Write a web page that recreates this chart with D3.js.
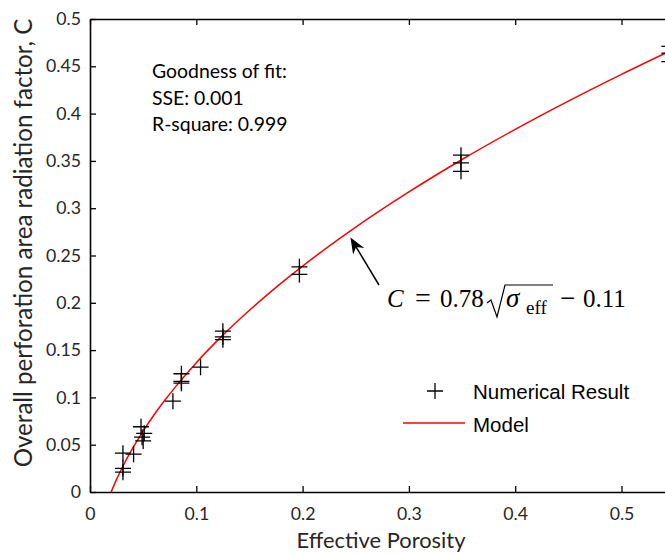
<!DOCTYPE html>
<html>
<head>
<meta charset="utf-8">
<script src="https://cdn.jsdelivr.net/npm/d3@7"></script>
<style>
  body { margin: 0; background: #fff; }
  svg { display: block; }
</style>
</head>
<body>
<div id="chart"></div>
<script>
// Numerical results (effective porosity vs radiation factor C)
var porosity = [0.031, 0.041, 0.031, 0.031,
  0.048, 0.051, 0.049, 0.050,
  0.078, 0.086, 0.086, 0.086, 0.104,
  0.125, 0.125, 0.125,
  0.197, 0.197,
  0.349, 0.349, 0.349,
  0.545, 0.545, 0.545];
var radiation = [0.041, 0.040, 0.025, 0.021,
  0.069, 0.062, 0.058, 0.054,
  0.096, 0.125, 0.117, 0.115, 0.132,
  0.170, 0.164, 0.161,
  0.238, 0.230,
  0.356, 0.348, 0.339,
  0.471, 0.464, 0.455];

// Model curve C = 0.78*sqrt(sigma_eff) - 0.11, sampled
var modelX = [0.0199, 0.025, 0.03, 0.04, 0.05, 0.06, 0.07, 0.08, 0.1, 0.125, 0.15,
  0.175, 0.2, 0.25, 0.3, 0.35, 0.4, 0.45, 0.5, 0.55];
var modelC = [0.0000, 0.0133, 0.0251, 0.0460, 0.0644, 0.0811, 0.0964, 0.1106, 0.1367,
  0.1658, 0.1921, 0.2163, 0.2388, 0.2800, 0.3172, 0.3515, 0.3833, 0.4132, 0.4415, 0.4685];

var xTicks = [0, 0.1, 0.2, 0.3, 0.4, 0.5];
var yTicks = [0, 0.05, 0.1, 0.15, 0.2, 0.25, 0.3, 0.35, 0.4, 0.45, 0.5];
var fitText = ['Goodness of fit:', 'SSE: 0.001', 'R-square: 0.999'];

var chart_width = 665;
var chart_height = 554;
var plotLeft = 90, plotTop = 19, plotBottom = 492;

var svg = d3.select('#chart')
  .append('svg')
  .attr('width', chart_width)
  .attr('height', chart_height);

var calFont = 'Lato, "Open Sans", sans-serif';
var legFont = '"Liberation Sans", Arial, sans-serif';
var serifFont = '"Liberation Serif", "Times New Roman", serif';

// font size that makes a string a given width
function fitFont(str, family, target) {
  var t = svg.append('text').attr('font-family', family).attr('font-size', 100).text(str);
  var w = t.node().getComputedTextLength();
  t.remove();
  return 100 * target / w;
}
var tickSize = fitFont('0.45', calFont, 35);
var fitSize = fitFont('Goodness of fit:', calFont, 135);
var xLabSize = fitFont('Effective Porosity', calFont, 169);
var yLabSize = fitFont('Overall perforation area radiation factor, C', calFont, 449);

// Scales
var xScale = d3.scaleLinear()
  .domain([0, 0.55])
  .range([plotLeft, plotLeft + 0.55 * 1063]);
var yScale = d3.scaleLinear()
  .domain([0, 0.5])
  .range([plotBottom, plotTop]);

// Axes
var xAxis = svg.append('g')
  .attr('transform', 'translate(0,' + plotBottom + ')')
  .call(d3.axisBottom(xScale).tickValues(xTicks).tickSizeInner(-6).tickSizeOuter(0)
    .tickPadding(17).tickFormat(d3.format('~g')));
var xTop = svg.append('g')
  .attr('transform', 'translate(0,' + plotTop + ')')
  .call(d3.axisTop(xScale).tickValues(xTicks).tickSizeInner(-6).tickSizeOuter(0)
    .tickFormat(''));
var yAxis = svg.append('g')
  .attr('transform', 'translate(' + plotLeft + ',0)')
  .call(d3.axisLeft(yScale).tickValues(yTicks).tickSizeInner(-6).tickSizeOuter(0)
    .tickPadding(9).tickFormat(d3.format('~g')));

[xAxis, xTop, yAxis].forEach(function (g) {
  g.select('.domain').attr('stroke', '#000').attr('stroke-width', 1.6);
  g.selectAll('.tick line').attr('stroke', '#000').attr('stroke-width', 1.3);
  g.selectAll('.tick text')
    .attr('font-family', calFont)
    .attr('font-size', tickSize)
    .attr('fill', '#262626');
});
xAxis.selectAll('.tick text').attr('dy', '0.6em');

// Axis labels
svg.append('text')
  .text('Effective Porosity')
  .attr('x', 381)
  .attr('y', 548)
  .attr('text-anchor', 'middle')
  .attr('font-family', calFont)
  .attr('font-size', xLabSize)
  .attr('fill', '#262626');

svg.append('text')
  .text('Overall perforation area radiation factor, C')
  .attr('transform', 'translate(32,243) rotate(-90)')
  .attr('text-anchor', 'middle')
  .attr('font-family', calFont)
  .attr('font-size', yLabSize)
  .attr('fill', '#262626');

// Model line
var line = d3.line()
  .x(function (d, i) { return xScale(modelX[i]); })
  .y(function (d) { return yScale(d); })
  .curve(d3.curveMonotoneX);

svg.append('path')
  .datum(modelC)
  .attr('d', line)
  .attr('fill', 'none')
  .attr('stroke', '#ff0000')
  .attr('stroke-width', 1.5);

// Numerical result markers
var plus = 'M-8,0H8M0,-8V8';
svg.selectAll('path.pt')
  .data(radiation)
  .enter()
  .append('path')
  .attr('class', 'pt')
  .attr('d', plus)
  .attr('transform', function (d, i) {
    return 'translate(' + xScale(porosity[i]) + ',' + yScale(d) + ')';
  })
  .attr('stroke', '#000')
  .attr('stroke-width', 1.3);

// Goodness of fit text
svg.selectAll('text.fit')
  .data(fitText)
  .enter()
  .append('text')
  .attr('class', 'fit')
  .text(function (d) { return d; })
  .attr('x', 152)
  .attr('y', function (d, i) { return 78 + i * 26.5; })
  .attr('font-family', calFont)
  .attr('font-size', fitSize)
  .attr('fill', '#000');

// Legend
svg.append('path')
  .attr('d', plus)
  .attr('transform', 'translate(435,391)')
  .attr('stroke', '#000')
  .attr('stroke-width', 1.3);
svg.append('text')
  .text('Numerical Result')
  .attr('x', 473).attr('y', 399)
  .attr('font-family', legFont).attr('font-size', 20.5).attr('fill', '#000');
svg.append('line')
  .attr('x1', 403).attr('x2', 465).attr('y1', 423).attr('y2', 423)
  .attr('stroke', '#ff0000').attr('stroke-width', 1.5);
svg.append('text')
  .text('Model')
  .attr('x', 473).attr('y', 432)
  .attr('font-family', legFont).attr('font-size', 20.5).attr('fill', '#000');

// Arrow annotation
var tipX = xScale(0.245), tipY = yScale(0.269);
var tailX = 379, tailY = 285;
var ang = Math.atan2(tipY - tailY, tipX - tailX);
svg.append('line')
  .attr('x1', tailX).attr('y1', tailY)
  .attr('x2', tipX - 10 * Math.cos(ang)).attr('y2', tipY - 10 * Math.sin(ang))
  .attr('stroke', '#000').attr('stroke-width', 1.5);
svg.append('path')
  .attr('d', 'M0,0L-16,-6.5L-11,0L-16,6.5Z')
  .attr('transform', 'translate(' + tipX + ',' + tipY + ') rotate(' + (ang * 180 / Math.PI) + ')')
  .attr('fill', '#000');

// Equation: C = 0.78 sqrt(sigma_eff) - 0.11
var eq = svg.append('g');
var ey = 307, fs = 25;
function piece(str, x, opts) {
  return eq.append('text')
    .text(str)
    .attr('x', x)
    .attr('y', opts.y || ey)
    .attr('font-family', serifFont)
    .attr('font-size', opts.size || fs)
    .attr('font-style', opts.italic ? 'italic' : 'normal')
    .attr('fill', '#000');
}
piece('C', 387, { italic: true });
piece('=', 415, { size: 28 });
piece('0.78', 440, {});
piece('σ', 506, { italic: true, size: 27 });
piece('eff', 526, { size: 19, y: ey + 7 });
piece('−', 560, { size: 27 });
piece('0.11', 583, {});
eq.append('path')
  .attr('d', 'M487,303L491,300L497,317L505,285H553')
  .attr('fill', 'none')
  .attr('stroke', '#000')
  .attr('stroke-width', 1.2);
</script>
</body>
</html>
